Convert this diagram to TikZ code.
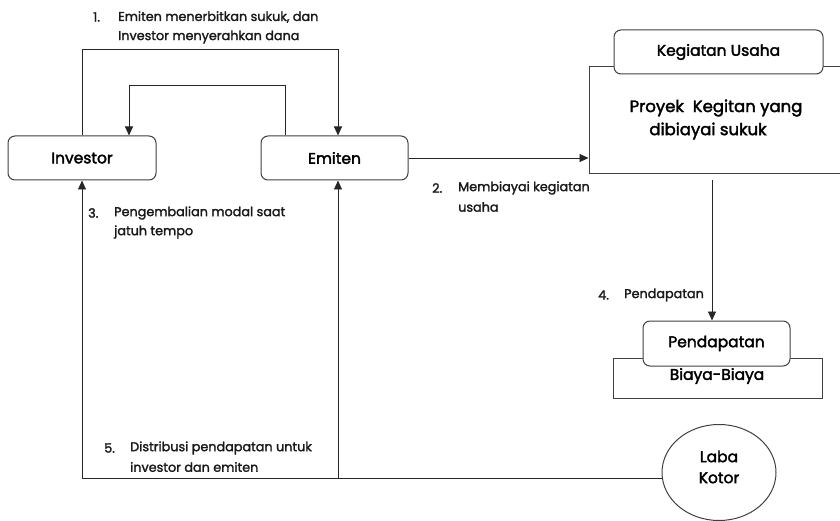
\documentclass[tikz,border=0pt]{standalone}
\usepackage{fontspec}
\setmainfont{Poppins}[FakeBold=1.8]
\newfontfamily\boxfont{Poppins}[FakeBold=2.2]
\usetikzlibrary{arrows.meta,shapes.geometric}
\begin{document}
\begin{tikzpicture}[x=1pt,y=-1pt,
  line/.style={draw=black!85, line width=0.9pt},
  arr/.style={line, -{Triangle[length=9pt,width=8pt]}},
  rbox/.style={draw=black!75, line width=1pt, rounded corners=7pt, fill=white, inner sep=0pt, font=\boxfont\fontsize{15.5}{17}\selectfont},
  sbox/.style={draw=black!75, line width=1pt, fill=white, inner sep=0pt},
  lbl/.style={anchor=west, inner sep=0pt, font=\fontsize{12.8}{14}\selectfont, text=black!90},
  big/.style={inner sep=0pt, font=\boxfont\fontsize{16.5}{18}\selectfont}]
\useasboundingbox (0,0) rectangle (840,521);
% boxes
\node[rbox, minimum width=148pt, minimum height=44pt] (inv) at (82,158) {Investor};
\node[rbox, minimum width=147pt, minimum height=44pt] (emi) at (334.5,158) {Emiten};
\node[sbox, minimum width=256pt, minimum height=107pt] (proj) at (717,120.5) {};
\node[rbox, minimum width=209pt, minimum height=44pt] (keg) at (718.5,52) {Kegiatan Usaha};
\node[big] (p1) at (716,108) {Proyek\ \ Kegitan yang};
\node[big] (p2) at (708,131) {dibiayai sukuk};
\node[sbox, minimum width=209pt, minimum height=40pt] (biaya) at (717.5,378) {};
\node[rbox, minimum width=147pt, minimum height=45pt] (pend) at (716.5,343.5) {Pendapatan};
\node[big, font=\boxfont\fontsize{15.5}{17}\selectfont] (bt) at (717,376) {Biaya-Biaya};
\node[ellipse, draw=black!75, line width=1pt, minimum width=114pt, minimum height=96pt, inner sep=0pt] (laba) at (719,472.5) {};
\node[inner sep=0pt, align=center, font=\boxfont\fontsize{15.5}{21}\selectfont] (lk) at (719,467) {Laba\\Kotor};
% coordinates
\coordinate (t1) at (82,49);
\coordinate (t2) at (285,85);
\coordinate (s4) at (712,180);
\coordinate (lb) at (662,478);
% connectors
\draw[arr] (inv.north) |- (t1) -| ([xshift=3.5pt]emi.north);
\draw[arr] ([xshift=-49.5pt]emi.north) |- (t2) -| ([xshift=47pt]inv.north);
\draw[arr] (emi.east) -- (emi.east -| proj.west);
\draw[arr] (s4) -- (s4 |- pend.north);
\draw[arr] (lb) -| (inv.south);
\draw[arr] (lb -| 338,0) -- ([xshift=3.5pt]emi.south);
% labels
\node[lbl] (l1n) at (93,17) {1.};
\node[lbl] (l1a) at (118,17) {Emiten menerbitkan sukuk, dan};
\node[lbl] (l1b) at (118,37) {Investor menyerahkan dana};
\node[lbl] (l2n) at (432,188) {2.};
\node[lbl] (l2a) at (458,188) {Membiayai kegiatan};
\node[lbl] (l2b) at (458,207) {usaha};
\node[lbl] (l3n) at (88,213) {3.};
\node[lbl] (l3a) at (114,213) {Pengembalian modal saat};
\node[lbl] (l3b) at (114,232) {jatuh tempo};
\node[lbl] (l4n) at (598,295) {4.};
\node[lbl] (l4a) at (624,295) {Pendapatan};
\node[lbl] (l5n) at (104,448) {5.};
\node[lbl] (l5a) at (130,448) {Distribusi pendapatan untuk};
\node[lbl] (l5b) at (130,467) {investor dan emiten};
\end{tikzpicture}
\end{document}
